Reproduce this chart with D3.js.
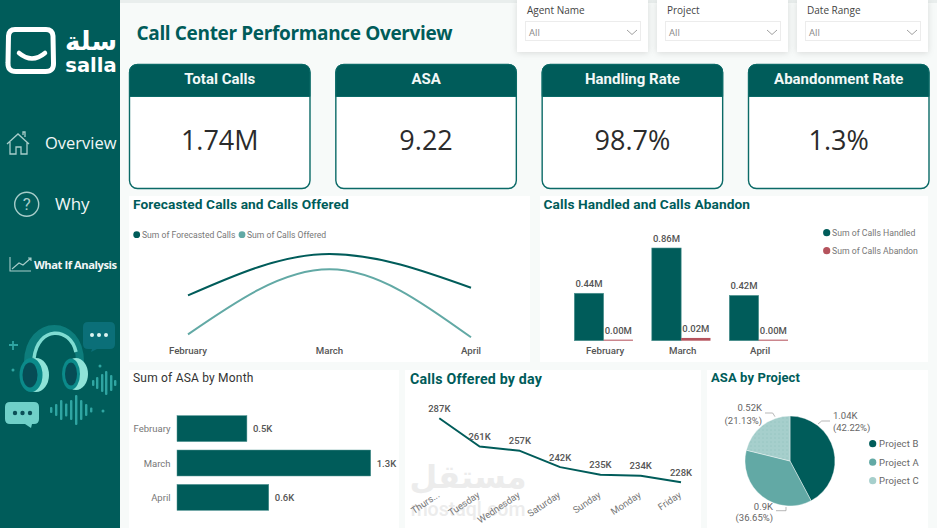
<!DOCTYPE html>
<html><head><meta charset="utf-8">
<script src="https://cdn.jsdelivr.net/npm/d3@7"></script>
<style>
html,body{margin:0;padding:0;background:#f7faf9;overflow:hidden}
svg{display:block}
text{font-family:Roboto,sans-serif}
</style></head><body>
<svg id="c" width="937" height="528"></svg>
<script>
// ---------- data ----------
const pageTitle = "Call Center Performance Overview";
const navItems = ["Overview","Why","What If Analysis"];
const slicerNames = ["Agent Name","Project","Date Range"];
const cardTitles = ["Total Calls","ASA","Handling Rate","Abandonment Rate"];
const cardValues = ["1.74M","9.22","98.7%","1.3%"];
const months = ["February","March","April"];
const forecastedCalls = [705,982,756];
const callsOffered = [445,880,425];
const callsHandled = [0.44,0.86,0.42];
const callsAbandon = [0.004,0.02,0.004];
const asaByMonth = [0.48,1.33,0.63];
const days = ["Thurs...","Tuesday","Wednesday","Saturday","Sunday","Monday","Friday"];
const offeredByDay = [287,261,257,242,235,234,228];
const projects = ["Project B","Project A","Project C"];
const asaByProject = [1.038,0.901,0.5195];

// ---------- palette ----------
const DARK="#005c5a", MID="#62a9a5", LIGHT="#a6cfcc", RED="#b5535d", GREY="#666";
const svg=d3.select("#c");
const defs=svg.append("defs");
const f=defs.append("filter").attr("id","sh").attr("x","-10%").attr("y","-10%").attr("width","120%").attr("height","125%");
f.append("feDropShadow").attr("dx",0).attr("dy",1).attr("stdDeviation",3).attr("flood-color","#000").attr("flood-opacity",.13);
const pat=defs.append("pattern").attr("id","dots").attr("width",4).attr("height",4).attr("patternUnits","userSpaceOnUse");
pat.append("rect").attr("width",4).attr("height",4).attr("fill",LIGHT);
pat.append("circle").attr("cx",1).attr("cy",1).attr("r",.45).attr("fill","#6fb0ab");

function T(g,x,y,s,o={}){
  return g.append("text").attr("x",x).attr("y",y).text(s)
   .attr("font-size",o.size||9).attr("fill",o.fill||GREY)
   .attr("font-weight",o.weight||400).attr("text-anchor",o.anchor||"start")
   .attr("dominant-baseline","central")
   .style("font-family",o.font||"Roboto,sans-serif")
   .style("letter-spacing",o.ls||null);
}

// ---------- background / sidebar ----------
svg.append("rect").attr("width",937).attr("height",528).attr("fill","#f7faf9");
svg.append("rect").attr("x",120).attr("width",817).attr("height",3).attr("fill","#e9eeed");
const side=svg.append("g");
side.append("rect").attr("width",120).attr("height",528).attr("fill",DARK);

// logo
side.append("path").attr("d","M15 29.5H46q6.5 0 7 6.5L53.5 63q.5 8.5-8 8.5H16q-8.5 0-8-8.5L8.5 36q.5-6.5 6.5-6.5z")
  .attr("fill","none").attr("stroke","#fff").attr("stroke-width",5);
side.append("path").attr("d","M19 53q13 11 26 0").attr("fill","none").attr("stroke","#fff").attr("stroke-width",4.5).attr("stroke-linecap","round");
T(side,91,41,"سلة",{size:26,fill:"#fff",weight:700,anchor:"middle",font:"'DejaVu Sans',sans-serif"});
T(side,91,65.5,"salla",{size:19.5,fill:"#fff",weight:700,anchor:"middle",font:"'DejaVu Sans',sans-serif"});

// nav
const navIcon="#a7cdca";
side.append("path").attr("d","M7 144l11-10 11 10M10 142v12h6v-7h5v7h6v-12M23 135v-3h2v5")
  .attr("fill","none").attr("stroke",navIcon).attr("stroke-width",1.3);
T(side,45,142.5,navItems[0],{size:16.5,fill:"#f2f7f7",font:"'Open Sans',sans-serif"});
side.append("circle").attr("cx",26.7).attr("cy",204.3).attr("r",12).attr("fill","none").attr("stroke",navIcon).attr("stroke-width",1.4);
T(side,26.7,204,"?",{size:17,fill:navIcon,anchor:"middle"});
T(side,55,203,navItems[1],{size:17,fill:"#f2f7f7",font:"'Open Sans',sans-serif"});
side.append("path").attr("d","M10 257v14h21M12 269l7-6 4 2 8-7M28 258h3v3").attr("fill","none").attr("stroke",navIcon).attr("stroke-width",1.1);
T(side,34,264.5,navItems[2],{size:11.2,fill:"#f2f7f7",weight:700,font:"'Open Sans',sans-serif",ls:"-.45px"});

// headset art
const art=side.append("g");
art.append("path").attr("d","M28 362C29 318 80 318 80 362").attr("fill","none").attr("stroke","#0d7d7c").attr("stroke-width",8);
art.append("path").attr("d","M34 358C38 326 70 326 76 352").attr("fill","none").attr("stroke","#7fdcd2").attr("stroke-width",3.5);
art.append("ellipse").attr("cx",36).attr("cy",375).attr("rx",13).attr("ry",17).attr("fill","#8fe3d8");
art.append("ellipse").attr("cx",31).attr("cy",375).attr("rx",11.5).attr("ry",17).attr("fill","#0b8a8a");
art.append("ellipse").attr("cx",30).attr("cy",375).attr("rx",7.5).attr("ry",12.5).attr("fill","#064c55");
art.append("ellipse").attr("cx",76).attr("cy",374).attr("rx",12).attr("ry",16).attr("fill","#8fe3d8");
art.append("ellipse").attr("cx",71).attr("cy",374).attr("rx",9).attr("ry",15.5).attr("fill","#0b8a8a");
art.append("ellipse").attr("cx",71).attr("cy",374).attr("rx",6).attr("ry",11.5).attr("fill","#064c55");
art.append("path").attr("d","M88 322h22q5 0 5 5v17q0 5-5 5H97l-6 3 1-3h-4q-5 0-5-5v-17q0-5 5-5z").attr("fill","#0b6f78");
[92,99,106].forEach(x=>art.append("circle").attr("cx",x).attr("cy",335).attr("r",2).attr("fill","#dff5f2"));
art.append("path").attr("d","M10 402h24q5 0 5 5v12q0 5-5 5h-2l-1 4-6-4H10q-5 0-5-5v-12q0-5 5-5z").attr("fill","#6fd0c8");
[15,22.5,30].forEach(x=>art.append("circle").attr("cx",x).attr("cy",413).attr("r",2.2).attr("fill","#0b4f57"));
[[51,6],[56,12],[61,20],[66,13],[71,20],[76,30],[81,20],[86,12],[91,5]].forEach(([x,h])=>
  art.append("rect").attr("x",x-1).attr("y",410-h/2).attr("width",2.4).attr("height",h).attr("rx",1).attr("fill","#2fa5a2"));
[[93,6],[97,12],[102,18],[106,24],[111,16],[115,6]].forEach(([x,h])=>
  art.append("rect").attr("x",x-1).attr("y",383-h/2).attr("width",2.4).attr("height",h).attr("rx",1).attr("fill","#2fa5a2"));
art.append("path").attr("d","M13 341v9M9 345h9").attr("stroke","#2fa5a2").attr("stroke-width",1.8);
[[13,370],[100,366],[103,411]].forEach(([x,y])=>art.append("circle").attr("cx",x).attr("cy",y).attr("r",1.5).attr("fill","#2fa5a2"));

// ---------- header ----------
T(svg,136.5,33,pageTitle,{size:19,fill:DARK,weight:700,font:"'Open Sans',sans-serif",ls:"-.35px"});
const slicerX=d3.scalePoint().domain(slicerNames).range([517,797]);
slicerNames.forEach(n=>{
  const x=slicerX(n), g=svg.append("g");
  g.append("rect").attr("x",x).attr("y",0).attr("width",131).attr("height",52).attr("fill","#fff").attr("filter","url(#sh)");
  T(g,x+10,10,n,{size:10,fill:"#444",font:"'Open Sans',sans-serif"});
  g.append("rect").attr("x",x+8.5).attr("y",21.5).attr("width",115).attr("height",19).attr("fill","#fff").attr("stroke","#ececec");
  T(g,x+12,32.5,"All",{size:9.5,fill:"#8a8a8a",font:"'Open Sans',sans-serif"});
  g.append("path").attr("d",`M${x+110} 30l5 4.5 5-4.5`).attr("fill","none").attr("stroke","#888").attr("stroke-width",.8);
});

// ---------- KPI cards ----------
const cardX=d3.scalePoint().domain(cardTitles).range([129.5,748.5]);
cardTitles.forEach((t,i)=>{
  const x=cardX(t), g=svg.append("g"), w=180.5;
  g.append("rect").attr("x",x).attr("y",64.5).attr("width",w).attr("height",124).attr("rx",8).attr("fill","#fff").attr("stroke","#0b6a67").attr("stroke-width",1.4);
  g.append("path").attr("d",`M${x} 96.5V72.5q0-8 8-8H${x+w-8}q8 0 8 8V96.5Z`).attr("fill",DARK).attr("stroke","#0b6a67");
  T(g,x+w/2,79,t,{size:15,fill:"#f2f8f7",weight:700,anchor:"middle"});
  T(g,x+w/2,139.5,cardValues[i],{size:27,fill:"#2b2b2b",anchor:"middle",font:"'Open Sans',sans-serif"});
});

// ---------- panels ----------
[[129,196,401,166],[540,196,388,166],[129,370,270,158],[405,370,296,158],[707,370,221,158]].forEach(([x,y,w,h])=>
  svg.append("rect").attr("x",x).attr("y",y).attr("width",w).attr("height",h).attr("fill","#fff"));

const titleOpt={size:13.7,fill:DARK,weight:700,ls:".1px"};

// ---------- Forecast line chart ----------
{
  const g=svg.append("g");
  T(g,133,204,"Forecasted Calls and Calls Offered",titleOpt);
  g.append("circle").attr("cx",136.7).attr("cy",234.7).attr("r",3.4).attr("fill",DARK);
  T(g,142,234.7,"Sum of Forecasted Calls",{size:8.6,fill:"#777"});
  g.append("circle").attr("cx",242).attr("cy",234.7).attr("r",3.4).attr("fill",MID);
  T(g,247,234.7,"Sum of Calls Offered",{size:8.6,fill:"#777"});
  const x=d3.scalePoint().domain(months).range([188,471]);
  const y=d3.scaleLinear().domain([425,982]).range([337.3,254]);
  const line=d3.line().x((d,i)=>x(months[i])).y(d=>y(d)).curve(d3.curveMonotoneX);
  g.append("path").attr("d",line(forecastedCalls)).attr("fill","none").attr("stroke",DARK).attr("stroke-width",2);
  g.append("path").attr("d",line(callsOffered)).attr("fill","none").attr("stroke",MID).attr("stroke-width",2);
  months.forEach(m=>T(g,x(m),350,m,{size:9.7,fill:"#555",weight:500,anchor:"middle"}));
}

// ---------- Clustered bars ----------
{
  const g=svg.append("g");
  T(g,543.5,204,"Calls Handled and Calls Abandon",titleOpt);
  const x=d3.scaleBand().domain(months).range([574.3,788]).paddingInner(.243);
  const x1=d3.scaleBand().domain(["h","a"]).range([0,x.bandwidth()]);
  const y=d3.scaleLinear().domain([0,.86]).range([340.7,248]);
  const fm=d3.format(".2f");
  months.forEach((m,i)=>{
    g.append("rect").attr("x",x(m)+x1("h")).attr("y",y(callsHandled[i])).attr("width",x1.bandwidth()).attr("height",y(0)-y(callsHandled[i])).attr("fill",DARK).attr("stroke","#4f9391").attr("stroke-width",.6);
    g.append("rect").attr("x",x(m)+x1("a")).attr("y",y(callsAbandon[i])-.6).attr("width",x1.bandwidth()).attr("height",y(0)-y(callsAbandon[i])+.6).attr("fill",RED);
    T(g,x(m)+x1("h")+x1.bandwidth()/2,y(callsHandled[i])-10,fm(callsHandled[i])+"M",{size:9.5,fill:"#555",weight:500,anchor:"middle"});
    T(g,x(m)+x1("a")+x1.bandwidth()/2,y(callsAbandon[i])-10,fm(callsAbandon[i])+"M",{size:9.5,fill:"#555",weight:500,anchor:"middle"});
    T(g,x(m)+x.bandwidth()/2+1.5,350,m,{size:9.7,fill:"#555",weight:500,anchor:"middle"});
  });
  g.append("circle").attr("cx",826.7).attr("cy",232.7).attr("r",3.6).attr("fill",DARK);
  T(g,832,232.7,"Sum of Calls Handled",{size:8.7,fill:"#777"});
  g.append("circle").attr("cx",826.7).attr("cy",250.7).attr("r",3.6).attr("fill",RED);
  T(g,832,250.7,"Sum of Calls Abandon",{size:8.7,fill:"#777"});
}

// ---------- ASA by month ----------
{
  const g=svg.append("g");
  T(g,133,378,"Sum of ASA by Month",{size:12,fill:"#333",ls:".2px"});
  const y=d3.scaleBand().domain(months).range([411.5,514.5]).paddingInner(.245).paddingOuter(.12);
  const x=d3.scaleLinear().domain([0,1.33]).range([177,370.7]);
  const fm=d3.format(".1f");
  months.forEach((m,i)=>{
    g.append("rect").attr("x",x(0)).attr("y",y(m)).attr("width",x(asaByMonth[i])-x(0)).attr("height",y.bandwidth()).attr("fill",DARK).attr("stroke","#4f9391").attr("stroke-width",.5);
    T(g,170.5,y(m)+y.bandwidth()/2,m,{size:9.5,fill:"#777",anchor:"end"});
    T(g,x(asaByMonth[i])+6,y(m)+y.bandwidth()/2,fm(asaByMonth[i])+"K",{size:9.5,fill:"#555",weight:500});
  });
}

// ---------- Calls offered by day ----------
{
  const g=svg.append("g");
  T(g,468,477,"مستقل",{size:32,fill:"#ececec",weight:700,anchor:"middle",font:"'DejaVu Sans',sans-serif"});
  T(g,468,509,"mostaql.com",{size:19.5,fill:"#ececec",weight:500,anchor:"middle"});
  T(g,410,379,"Calls Offered by day",{size:14.2,fill:DARK,weight:700,ls:".2px"});
  const x=d3.scalePoint().domain(days).range([439.3,681]);
  const y=d3.scaleLinear().domain([228,287]).range([482.3,418.3]);
  const line=d3.line().x((d,i)=>x(days[i])).y(d=>y(d));
  g.append("path").attr("d",line(offeredByDay)).attr("fill","none").attr("stroke",DARK).attr("stroke-width",2).attr("stroke-linejoin","round");
  days.forEach((d,i)=>{
    T(g,x(d),y(offeredByDay[i])-10,offeredByDay[i]+"K",{size:9.5,fill:"#555",weight:500,anchor:"middle"});
    g.append("text").attr("transform",`translate(${x(d)-1},493.5) rotate(-34)`).text(d)
      .attr("font-size",9.5).attr("fill","#777").attr("text-anchor","end").attr("dominant-baseline","central");
  });
}

// ---------- Pie ----------
{
  const g=svg.append("g");
  T(g,711,377.5,"ASA by Project",{size:13,fill:DARK,weight:700,ls:".1px"});
  const pie=d3.pie().sort(null)(asaByProject);
  const arc=d3.arc().innerRadius(0).outerRadius(45);
  const pc=g.append("g").attr("transform","translate(790,461)");
  const fills=[DARK,MID,"url(#dots)"], legend=[DARK,MID,LIGHT];
  pc.selectAll("path").data(pie).join("path").attr("d",arc).attr("fill",(d,i)=>fills[i]).attr("stroke","#fff").attr("stroke-width",.4);
  const total=d3.sum(asaByProject), fv=d3.format(".2~f"), fp=d3.format(".2%");
  const lab=[
    {x:833,y1:415.7,y2:427.3,a:"start",l:"M818 424l3.7-3h8.3"},
    {x:773,y1:506.7,y2:517.7,a:"end",l:"M776 510.7h10v-3.7"},
    {x:762,y1:407.7,y2:420,a:"end",l:"M765 413h7.7l2.3 3.7"}];
  pie.forEach((d,i)=>{
    const L=lab[i];
    g.append("path").attr("d",L.l).attr("fill","none").attr("stroke","#999").attr("stroke-width",.7);
    T(g,L.x,L.y1,fv(d.data)+"K",{size:9.5,fill:"#666",anchor:L.a});
    T(g,L.x,L.y2,"("+fp(d.data/total)+")",{size:9.5,fill:"#666",anchor:L.a});
  });
  const ly=d3.scalePoint().domain(projects).range([443.7,480.7]);
  projects.forEach((p,i)=>{
    g.append("circle").attr("cx",872.7).attr("cy",ly(p)).attr("r",3.6).attr("fill",legend[i]);
    T(g,879,ly(p),p,{size:9.5,fill:"#666",ls:".15px"});
  });
}
</script>
</body></html>
